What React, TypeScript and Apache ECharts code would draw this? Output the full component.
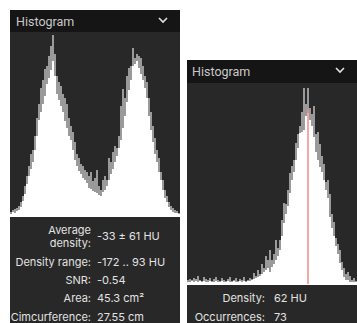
import React, { useEffect, useRef } from "react";
import * as echarts from "echarts";

// Left histogram (pixel-height units): smoothed (white) and raw (grey) counts
const leftSmooth = [2,4,3,5,6,9,15,22,32,40,47,54,66,80,96,104,112,120,132,138,146,155,140,122,116,110,104,95,88,80,76,66,56,50,45,42,38,36,33,28,27,25,24,23,21,20,24,26,30,36,42,47,54,60,68,76,88,100,114,126,136,150,152,155,148,142,136,128,118,100,86,74,62,54,44,36,26,18,14,9,6,4,3,3,2];
const leftRaw = [4,6,7,8,10,14,20,30,40,50,62,66,80,98,112,128,136,147,150,160,170,181,162,140,134,130,122,118,112,98,90,84,74,62,58,52,50,46,44,40,44,35,38,46,30,26,36,40,36,58,54,64,70,68,80,110,127,118,140,148,150,168,158,162,160,158,150,140,134,118,104,90,78,66,58,44,36,26,20,14,10,8,6,5,3];

// Right histogram
const rightSmooth = [2,2,3,2,3,2,3,2,3,2,2,3,2,2,3,2,2,3,2,2,3,2,2,3,2,2,3,2,3,2,3,3,4,5,6,7,8,10,12,14,16,12,17,20,24,28,34,48,61,70,78,91,104,112,124,136,151,152,154,168,171,164,158,147,132,124,117,112,104,94,86,67,56,48,38,30,21,14,7,4,4,2,2,2,2];
const rightRaw = [4,5,4,6,5,8,4,3,7,5,4,6,3,5,7,4,3,6,4,3,5,7,3,4,6,3,5,4,7,3,4,6,5,11,8,14,10,20,16,28,24,34,24,30,44,36,44,64,81,80,94,111,118,124,141,150,158,172,196,180,196,176,170,178,150,152,140,128,120,102,104,90,70,62,46,40,34,22,16,10,12,8,4,6,3];
const markerBin = 60;
const markerTop = 175;

const leftLabels = ["Density range:", "SNR:", "Area:", "Cimcurference:"];
const leftValues = ["-172 .. 93 HU", "-0.54", "45.3 cm²", "27.55 cm"];
const rightLabels = ["Density:", "Occurrences:"];
const rightValues = ["62 HU", "73"];

const FONT = "Inter, Roboto, 'Noto Sans', sans-serif";
const HEAD_FONT = "Roboto, Inter, sans-serif";
const HEADER_BG = "#151515";
const BODY_BG = "#282828";
const TEXT = "#e2e2e2";

export default function App() {
  const ref = useRef<HTMLDivElement>(null);
  useEffect(() => {
    document.body.style.margin = "0";
    const chart = echarts.init(ref.current!, null, { renderer: "svg" });
    const catsL = leftSmooth.map((_, i) => String(i));
    const catsR = rightSmooth.map((_, i) => String(i));

    const txt = (x: number, y: number, text: string, align: string, size = 11, color = TEXT, font = FONT, lh = 12) => ({
      type: "text",
      x,
      y,
      z: 10,
      style: { text, fill: color, font: `${size}px ${font}`, align, verticalAlign: "middle", lineHeight: lh },
    });
    const chevron = (x: number, y: number) => ({
      type: "polyline",
      z: 10,
      shape: { points: [[x, y], [x + 4, y + 4], [x + 8, y]] },
      style: { stroke: "#e0e0e0", lineWidth: 1.6, fill: "none" },
    });

    const graphics: any[] = [
      { type: "rect", z: 0, shape: { x: 10, y: 10, width: 170, height: 313 }, style: { fill: BODY_BG } },
      { type: "rect", z: 0, shape: { x: 10, y: 10, width: 170, height: 22 }, style: { fill: HEADER_BG } },
      { type: "rect", z: 0, shape: { x: 187, y: 60, width: 170, height: 263 }, style: { fill: BODY_BG } },
      { type: "rect", z: 0, shape: { x: 187, y: 60, width: 170, height: 23 }, style: { fill: HEADER_BG } },
      txt(16, 21, "Histogram", "left", 12.5, "#c8c8c8", HEAD_FONT),
      chevron(159, 18),
      txt(192, 71, "Histogram", "left", 12.5, "#c8c8c8", HEAD_FONT),
      chevron(336, 68),
      txt(91, 236, "Average\ndensity:", "right", 11, TEXT, FONT, 13),
      txt(97, 236, "-33 ± 61 HU", "left"),
    ];
    const leftYs = [262, 280, 298, 317];
    leftLabels.forEach((l, i) => {
      graphics.push(txt(91, leftYs[i], l, "right"));
      graphics.push(txt(97, leftYs[i], leftValues[i], "left"));
    });
    const rightYs = [298, 317];
    rightLabels.forEach((l, i) => {
      graphics.push(txt(265, rightYs[i], l, "right"));
      graphics.push(txt(274, rightYs[i], rightValues[i], "left"));
    });

    const xAx = (gi: number, data: string[]) => ({
      type: "category",
      gridIndex: gi,
      data,
      boundaryGap: true,
      axisLine: { show: true, lineStyle: { color: "#ffffff", width: 2 } },
      axisTick: { show: false },
      axisLabel: { show: false },
    });
    const yAx = (gi: number, max: number) => ({
      type: "value",
      gridIndex: gi,
      min: 0,
      max,
      axisLine: { show: false },
      axisTick: { show: false },
      axisLabel: { show: false },
      splitLine: { show: false },
    });

    chart.setOption({
      animation: false,
      backgroundColor: "#ffffff",
      grid: [
        { left: 10, top: 32, width: 170, height: 184 },
        { left: 187, top: 84, width: 170, height: 200 },
      ],
      xAxis: [xAx(0, catsL), xAx(1, catsR)],
      yAxis: [yAx(0, 184), yAx(1, 200)],
      series: [
        {
          type: "bar", xAxisIndex: 0, yAxisIndex: 0, data: leftRaw,
          barCategoryGap: 0, barGap: "-100%", itemStyle: { color: "#9a9a9a" }, silent: true,
        },
        {
          type: "bar", xAxisIndex: 0, yAxisIndex: 0, data: leftSmooth,
          barCategoryGap: 0, barGap: "-100%", itemStyle: { color: "#ffffff" }, silent: true,
        },
        {
          type: "bar", xAxisIndex: 1, yAxisIndex: 1, data: rightRaw,
          barCategoryGap: 0, barGap: "-100%", itemStyle: { color: "#9a9a9a" }, silent: true,
        },
        {
          type: "bar", xAxisIndex: 1, yAxisIndex: 1, data: rightSmooth,
          barCategoryGap: 0, barGap: "-100%", itemStyle: { color: "#ffffff" }, silent: true,
          markLine: {
            silent: true,
            symbol: "none",
            label: { show: false },
            lineStyle: { color: "#f08a8a", width: 1.5, type: "solid" },
            data: [[{ coord: [markerBin, 0] }, { coord: [markerBin, markerTop] }]],
          },
        },
      ],
      graphic: { elements: graphics },
    });
    return () => chart.dispose();
  }, []);
  return <div ref={ref} style={{ width: 357, height: 323 }} />;
}
